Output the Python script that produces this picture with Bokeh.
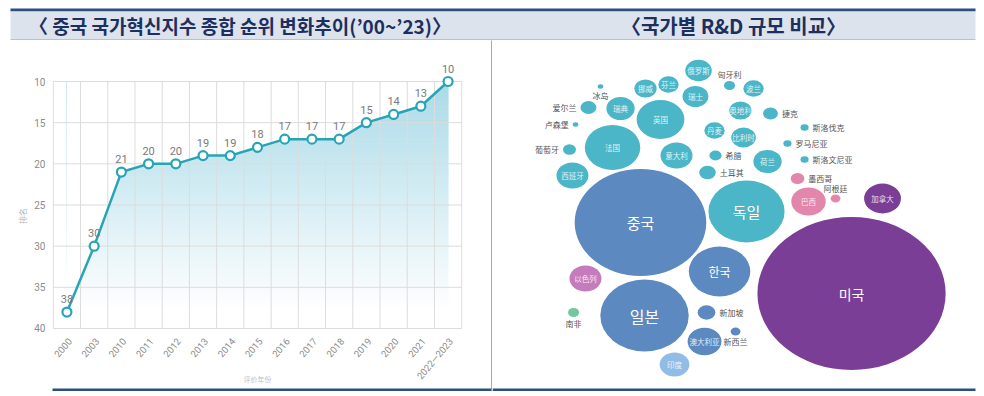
import numpy as np
from bokeh.plotting import figure
from bokeh.layouts import column, row
from bokeh.models import Range1d, FixedTicker, BoxAnnotation, Label, ColumnDataSource
from bokeh.core.properties import value
from bokeh.embed import file_html
from bokeh.resources import INLINE

# ---------------- data: left chart (China innovation index rank) ----------------
years = ["2000", "2003", "2010", "2011", "2012", "2013", "2014", "2015", "2016",
         "2017", "2018", "2019", "2020", "2021", "2022\u20142023"]
ranks = [38, 30, 21, 20, 20, 19, 19, 18, 17, 17, 17, 15, 14, 13, 10]
rank_ticks = [10, 15, 20, 25, 30, 35, 40]

# ---------------- data: right chart (R&D size by country) ----------------
countries = ["爱尔兰", "冰岛", "瑞典", "挪威", "芬兰", "俄罗斯", "瑞士", "英国", "匈牙利", "波兰",
             "奥地利", "捷克", "丹麦", "比利时", "法国", "葡萄牙", "卢森堡", "西班牙", "意大利", "希腊",
             "土耳其", "荷兰", "斯洛伐克", "罗马尼亚", "斯洛文尼亚", "墨西哥", "巴西", "阿根廷", "加拿大", "미국",
             "중국", "한국", "일본", "新加坡", "澳大利亚", "新西兰", "印度", "以色列", "南非", "독일"]
rd_value = [5.8, 0.7, 18.2, 11.2, 9.4, 16.0, 15.2, 52.0, 2.8, 9.4,
            11.2, 5.0, 9.4, 13.8, 70.0, 3.8, 0.7, 23.3, 23.3, 3.4,
            6.3, 18.2, 1.5, 1.5, 1.5, 4.2, 27.0, 2.2, 31.0, 806.0,
            394.0, 86.0, 178.0, 7.2, 26.0, 2.2, 20.0, 23.3, 2.8, 132.0]
region = ["EU", "EU", "EU", "EU", "EU", "EU", "EU", "EU", "EU", "EU",
          "EU", "EU", "EU", "EU", "EU", "EU", "EU", "EU", "EU", "EU",
          "EU", "EU", "EU", "EU", "EU", "LA", "LA", "LA", "NA", "NA",
          "AP", "AP", "AP", "AP", "AP", "AP", "SA", "ME", "AF", "EU"]
# bubble-layout coordinates
pack_x = [78.0, 87.8, 104.1, 124.4, 143.1, 167.5, 165.0, 136.6, 192.7, 212.2,
          201.6, 226.0, 180.5, 204.1, 97.6, 62.6, 67.5, 65.0, 149.6, 181.3,
          174.8, 223.6, 253.7, 239.8, 253.7, 248.0, 256.9, 278.9, 317.1, 291.9,
          120.3, 184.6, 123.6, 174.0, 172.4, 197.6, 148.0, 75.6, 65.9, 206.5]
pack_y = [67, 46, 68, 48, 44, 30, 56, 79, 45, 48,
          70, 73, 90, 97, 107, 109, 84, 135, 115, 115,
          132, 121, 87, 103, 119, 138, 161, 158, 158, 253,
          182, 231, 275, 272, 301, 291, 324, 238, 272, 171]
label_side = ["left", "below", "in", "in", "in", "in", "in", "in", "above", "in",
              "in", "right", "in", "in", "in", "left", "left", "in", "in", "right",
              "right", "in", "right", "right", "right", "right", "in", "above", "in", "in",
              "in", "in", "in", "right", "in", "below", "in", "in", "below", "in"]

title_left = "〈 중국 국가혁신지수 종합 순위 변화추이(’00~’23)〉"
title_right = "〈국가별 R&D 규모 비교〉"
y_axis_title = "排名"
x_axis_title = "评价年份"

# ---------------- styles ----------------
NAVY = "#2b4f80"
BAND = "#dde3ed"
TITLE_C = "#1c2f5e"
TEAL = "#27a5b5"
GRID = "#dcdcdc"
TICK_C = "#8c8c8c"
REGION_COLORS = {"EU": "#4bb6c7", "AP": "#5b89c0", "NA": "#7a3e96", "LA": "#e287ab",
                 "ME": "#c57cbc", "AF": "#72c6a0", "SA": "#90bce6"}
BIG_LABEL_PX = {"중국": "15px", "독일": "15px", "한국": "12px", "일본": "16px", "미국": "14px"}
STRETCH = 1.23
K = 5.39
W = 984
HDR_H = 40
ROW_H = 351           # includes the 3px bottom rule
RULE_H = 3
RULE_L, RULE_R = 10, 975
LEFT_W = 491
LEFT_BORDER = 52
RIGHT_W = W - LEFT_W - 1
PX_PER_RANK = 8.2333
RANK_TOP_PX = 41
PX_PER_CAT = 410 / 15.06

# ---------------- header ----------------
hdr = figure(width=W, height=HDR_H, x_range=Range1d(0, W), y_range=Range1d(0, HDR_H),
             toolbar_location=None, output_backend="svg", min_border=0,
             x_axis_location=None, y_axis_location=None, outline_line_color=None)
for g in hdr.grid:
    g.visible = False
hdr.add_layout(BoxAnnotation(left=RULE_L, right=RULE_R, bottom=29, top=32, fill_color=NAVY, fill_alpha=1, line_color=None))
hdr.add_layout(BoxAnnotation(left=RULE_L, right=RULE_R, bottom=1, top=29, fill_color=BAND, fill_alpha=1, line_color=None))
hdr.add_layout(BoxAnnotation(left=RULE_L, right=RULE_R, bottom=0, top=1, fill_color="#8f8f8f", fill_alpha=1, line_color=None))
hdr.add_layout(Label(x=239.5, y=15.5, text=title_left, text_align="center", text_baseline="middle",
                     text_font="Noto Sans CJK KR", text_font_size="19px", text_font_style="bold",
                     text_color=TITLE_C))
hdr.add_layout(Label(x=733, y=15.5, text=title_right, text_align="center", text_baseline="middle",
                     text_font="Noto Sans CJK KR", text_font_size="20px", text_font_style="bold",
                     text_color=TITLE_C))

# ---------------- left chart ----------------
n = len(years)
xs = [i + 0.5 for i in range(n)]
top_rank, bot_rank = rank_ticks[0], rank_ticks[-1]
x_start = -0.03
x_end = x_start + (LEFT_W - LEFT_BORDER) / PX_PER_CAT
y_top_val = top_rank - RANK_TOP_PX / PX_PER_RANK
y_bot_val = y_top_val + ROW_H / PX_PER_RANK
left = figure(width=LEFT_W, height=ROW_H, x_range=Range1d(x_start, x_end),
              y_range=Range1d(y_bot_val, y_top_val),
              toolbar_location=None, output_backend="svg", x_axis_location=None,
              min_border_left=LEFT_BORDER, min_border_right=0, min_border_top=0, min_border_bottom=0,
              outline_line_color=None, background_fill_color="white")
left.xgrid.visible = False
left.ygrid.visible = False

# gradient fill under the line
nstrip = 60
edges = np.linspace(top_rank, bot_rank, nstrip + 1)
c0 = np.array([170, 218, 232]); c1 = np.array([255, 255, 255])
cols = []
for k in range(nstrip):
    t = min(1.0, ((k + 0.5) / nstrip) / 0.93)
    c = c0 + (c1 - c0) * t
    cols.append("#%02x%02x%02x" % tuple(int(round(v)) for v in c))
left.quad(left=xs[0], right=xs[-1], top=edges[:-1], bottom=edges[1:], fill_color=cols,
          line_color=cols, line_width=1, level="image")
left.varea(x=xs, y1=ranks, y2=top_rank, fill_color="white", level="image")

# grid: vertical lines at category boundaries, horizontal lines at rank ticks
bounds = list(range(n + 1))
left.segment(x0=bounds, y0=[top_rank] * len(bounds), x1=bounds, y1=[bot_rank] * len(bounds),
             line_color=GRID, line_width=1, level="underlay")
left.segment(x0=[bounds[0]] * len(rank_ticks), y0=rank_ticks, x1=[bounds[-1]] * len(rank_ticks),
             y1=rank_ticks, line_color=GRID, line_width=1, level="underlay")

left.line(xs, ranks, line_color=TEAL, line_width=2.5)
left.scatter(xs, ranks, size=9, fill_color="white", line_color=TEAL, line_width=2.2)
left.text(xs, ranks, text=[str(r) for r in ranks], y_offset=-9, text_align="center",
          text_baseline="bottom", text_font=value("Roboto"), text_font_size="11px", text_color="#7a7a7a")

# category labels along the bottom of the rank scale
left.text(xs, [bot_rank] * n, text=years, angle=0.87, x_offset=3, y_offset=11,
          text_align="right", text_baseline="middle", text_font=value("Roboto"),
          text_font_size="9.5px", text_color=TICK_C)
left.text([n / 2], [bot_rank], text=[x_axis_title], y_offset=46, text_align="center",
          text_baseline="top", text_font=value("Noto Sans CJK SC"), text_font_size="7px",
          text_color="#c0c0c0")

left.yaxis.ticker = FixedTicker(ticks=rank_ticks)
left.yaxis.axis_line_color = None
left.yaxis.major_tick_line_color = None
left.yaxis.minor_tick_line_color = None
left.yaxis.major_tick_out = 0
left.yaxis.major_tick_in = 0
left.yaxis.minor_tick_out = 0
left.yaxis.major_label_text_color = TICK_C
left.yaxis.major_label_text_font = "Roboto"
left.yaxis.major_label_text_font_size = "10px"
left.yaxis.major_label_standoff = 7
left.yaxis.axis_label = y_axis_title
left.yaxis.axis_label_text_color = "#b5b5b5"
left.yaxis.axis_label_text_font = "Noto Sans CJK SC"
left.yaxis.axis_label_text_font_style = "normal"
left.yaxis.axis_label_text_font_size = "8px"
left.yaxis.axis_label_standoff = 3

# bottom rule (left part)
left.add_layout(BoxAnnotation(left=x_start + (RULE_L - LEFT_BORDER) / PX_PER_CAT, right=x_end,
                              top=y_bot_val - RULE_H / PX_PER_RANK, bottom=y_bot_val,
                              fill_color=NAVY, fill_alpha=1, line_color=None))

# ---------------- divider ----------------
divider = figure(width=1, height=ROW_H, x_range=Range1d(0, 1), y_range=Range1d(0, ROW_H),
                 toolbar_location=None, output_backend="svg", min_border=0,
                 x_axis_location=None, y_axis_location=None, outline_line_color=None,
                 background_fill_color="#555555", border_fill_color="#555555")
for g in divider.grid:
    g.visible = False
divider.add_layout(BoxAnnotation(left=0, right=1, bottom=0, top=RULE_H, fill_color=NAVY,
                                 fill_alpha=1, line_color=None))

# ---------------- right chart (bubbles) ----------------
right = figure(width=RIGHT_W, height=ROW_H, x_range=Range1d(0, RIGHT_W / STRETCH), y_range=Range1d(ROW_H, 0),
               toolbar_location=None, output_backend="svg", min_border=0,
               x_axis_location=None, y_axis_location=None, outline_line_color=None,
               background_fill_color="white")
for g in right.grid:
    g.visible = False

diam = [K * np.sqrt(v) for v in rd_value]
colors = [REGION_COLORS[r] for r in region]
right.ellipse(x=pack_x, y=pack_y, width=diam, height=diam, fill_color=colors, line_color=None)


def is_korean(s):
    return any("\uac00" <= ch <= "\ud7a3" for ch in s)


groups = {"in_cn": [], "in_kr": [], "left": [], "right": [], "below": [], "above": []}
for i, name in enumerate(countries):
    side = label_side[i]
    if side == "in":
        groups["in_kr" if is_korean(name) else "in_cn"].append(i)
    else:
        groups[side].append(i)


def src(idx, dx=0.0, dy=0.0):
    return ColumnDataSource(dict(
        x=[pack_x[i] + dx * diam[i] / 2 for i in idx],
        y=[pack_y[i] + dy * diam[i] / 2 for i in idx],
        t=[countries[i] for i in idx],
        fs=[BIG_LABEL_PX.get(countries[i], "7.5px") for i in idx],
    ))


right.text("x", "y", text="t", source=src(groups["in_cn"]), text_align="center", text_baseline="middle",
           text_font=value("Noto Sans CJK SC"), text_font_size="7.5px", text_color="white", text_alpha=0.85)
right.text("x", "y", text="t", source=src(groups["in_kr"]), text_align="center", text_baseline="middle",
           text_font=value("Noto Sans CJK KR"), text_font_size="fs", text_color="white")
OUT = dict(text_font=value("Noto Sans CJK SC"), text_font_size="8px", text_color="#555555")
right.text("x", "y", text="t", source=src(groups["right"], dx=1), x_offset=4, text_align="left",
           text_baseline="middle", **OUT)
right.text("x", "y", text="t", source=src(groups["left"], dx=-1), x_offset=-4, text_align="right",
           text_baseline="middle", **OUT)
right.text("x", "y", text="t", source=src(groups["below"], dy=1), y_offset=1, text_align="center",
           text_baseline="top", **OUT)
right.text("x", "y", text="t", source=src(groups["above"], dy=-1), y_offset=-1, text_align="center",
           text_baseline="bottom", **OUT)

# bottom rule (right part)
right.add_layout(BoxAnnotation(left=0, right=(RULE_R - LEFT_W - 1) / STRETCH, top=ROW_H - RULE_H,
                               bottom=ROW_H, fill_color=NAVY, fill_alpha=1, line_color=None))

page = column(hdr, row(left, divider, right))
open("out.html", "w").write(file_html(page, INLINE))
